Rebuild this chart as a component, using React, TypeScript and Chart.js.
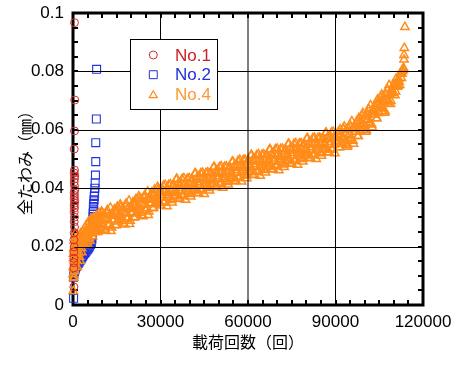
import React, { useEffect, useRef } from "react";
import { Chart, registerables } from "chart.js";

Chart.register(...registerables);

// ---- data ----
const seriesLabels = ["No.1", "No.2", "No.4"];
const xTicks = [0, 30000, 60000, 90000, 120000];
const yTicks = [0, 0.02, 0.04, 0.06, 0.08, 0.1];
const xMinorStep = 5000;
const yMinorStep = 0.005;

// No.1 : [load cycles, total deflection mm]
const no1Data: [number, number][] = [
  [500, 0.0967], [600, 0.0702], [500, 0.0596], [400, 0.0534], [500, 0.0462], [400, 0.0452],
  [600, 0.0442], [500, 0.0432], [400, 0.0421], [500, 0.0408], [600, 0.0394], [400, 0.0384],
  [500, 0.0375], [400, 0.0366], [600, 0.0357], [500, 0.0349], [400, 0.034], [500, 0.0332],
  [400, 0.0318], [500, 0.0301], [400, 0.0285], [500, 0.0267], [400, 0.0247], [300, 0.0223],
  [400, 0.0199], [300, 0.0182], [300, 0.016], [300, 0.0145], [300, 0.0127], [300, 0.0062],
];

// No.2
const no2Data: [number, number][] = [
  [200, 0.0023], [200, 0.0095], [300, 0.0105], [500, 0.0115], [700, 0.0122], [900, 0.0128],
  [1200, 0.0133], [1500, 0.0138], [1800, 0.0142], [2100, 0.0147], [2400, 0.0152], [2700, 0.0157],
  [3000, 0.0162], [3300, 0.0167], [3600, 0.0172], [3900, 0.0176], [4200, 0.018], [4500, 0.0184],
  [4800, 0.0188], [5100, 0.0192], [5400, 0.0196], [5700, 0.0201], [6000, 0.0207], [6300, 0.0213],
  [6500, 0.0225], [6600, 0.024], [6700, 0.0255], [6700, 0.0268], [6800, 0.028], [6800, 0.0292],
  [6900, 0.0303], [6900, 0.0315], [7000, 0.0326], [7000, 0.0337], [7100, 0.0348], [7200, 0.036],
  [7300, 0.0372], [7400, 0.0384], [7500, 0.04], [7600, 0.0418], [7700, 0.0445], [7800, 0.0491],
  [7800, 0.0556], [8000, 0.0637], [8100, 0.0807],
];

// No.4
const no4Data: [number, number][] = [
  [0, 0.0105], [100, 0.0048], [200, 0.0095], [300, 0.0092], [100, 0.013], [200, 0.016], [300, 0.0195],
  [400, 0.022], [500, 0.0145], [500, 0.0115], [600, 0.0175], [700, 0.0205], [800, 0.0245], [900, 0.0155],
  [1000, 0.019], [1200, 0.0225], [1400, 0.0165], [1500, 0.013], [1600, 0.0205], [1800, 0.0235],
  [2000, 0.018], [2300, 0.0215], [2500, 0.015], [2600, 0.0245], [2900, 0.0195], [3200, 0.0225],
  [3500, 0.0255], [3800, 0.021], [4100, 0.024], [4400, 0.027], [4700, 0.0225], [5000, 0.0255],
  [5300, 0.0285], [5600, 0.023], [5900, 0.026], [6200, 0.0295], [6500, 0.0245], [6800, 0.0275],
  [7100, 0.03], [7400, 0.025], [7700, 0.028], [8000, 0.0305], [8300, 0.026], [8600, 0.029],
  [8900, 0.0315], [9200, 0.0265], [9500, 0.0295], [9800, 0.032],
  [150, 0.0175], [350, 0.0125], [450, 0.0185], [650, 0.0135], [750, 0.0225], [950, 0.0205],
  [1100, 0.0155], [1300, 0.0195], [1700, 0.0175], [1900, 0.021], [2200, 0.0165], [2400, 0.0235],
  [2800, 0.0225], [3000, 0.018], [3400, 0.021], [3700, 0.024], [4000, 0.0205], [4300, 0.0255],
  [4600, 0.0235], [4900, 0.021], [5200, 0.0245], [5500, 0.0265], [5800, 0.022], [6100, 0.0255],
  [6400, 0.028], [6700, 0.0235], [7000, 0.0265], [7300, 0.029], [7600, 0.0255], [7900, 0.027],
  [8200, 0.0295], [8500, 0.025], [8800, 0.0275], [9100, 0.03], [9400, 0.0255], [9700, 0.028],
  [10000, 0.0315], [10400, 0.0266], [10800, 0.0298], [11200, 0.0254], [11600, 0.0315], [12000, 0.0291],
  [12400, 0.0277], [12800, 0.0333], [13200, 0.0265], [13600, 0.0311], [14000, 0.0292], [14400, 0.0318],
  [14800, 0.0274], [15200, 0.0336], [15600, 0.0292], [16000, 0.0309], [16400, 0.0336], [16800, 0.0287],
  [17200, 0.0319], [17600, 0.0275], [18000, 0.0337], [18400, 0.0314], [18800, 0.03], [19200, 0.0357],
  [19600, 0.0288], [20000, 0.0335], [20400, 0.0317], [20800, 0.0344], [21200, 0.0301], [21600, 0.0363],
  [22000, 0.032], [22400, 0.0337], [22800, 0.0364], [23200, 0.0316], [23600, 0.0347], [24000, 0.0304],
  [24400, 0.0366], [24800, 0.0343], [25200, 0.0331], [25600, 0.0388], [26000, 0.032], [26400, 0.0367],
  [26800, 0.0349], [27200, 0.0376], [27600, 0.0333], [28000, 0.0395], [28400, 0.0352], [28800, 0.0369],
  [29200, 0.0396], [29600, 0.0348],
  [10200, 0.0275], [10600, 0.0311], [11000, 0.0258], [11400, 0.0294], [11800, 0.0325], [12200, 0.0271],
  [12600, 0.0307], [13000, 0.0253], [13400, 0.0305], [13800, 0.0291], [14200, 0.0327], [14600, 0.0273],
  [15000, 0.0319], [15400, 0.0286], [15800, 0.0302], [16200, 0.0344], [16600, 0.0296], [17000, 0.0332],
  [17400, 0.0279], [17800, 0.0315], [18200, 0.0347], [18600, 0.0294], [19000, 0.033], [19400, 0.0277],
  [19800, 0.0328], [20200, 0.0315], [20600, 0.0352], [21000, 0.0299], [21400, 0.0346], [21800, 0.0313],
  [22200, 0.033], [22600, 0.0372], [23000, 0.0324], [23400, 0.0361], [23800, 0.0307], [24200, 0.0344],
  [24600, 0.0376], [25000, 0.0323], [25400, 0.0361], [25800, 0.0308], [26200, 0.036], [26600, 0.0347],
  [27000, 0.0384], [27400, 0.0331], [27800, 0.0378], [28200, 0.0345], [28600, 0.0362], [29000, 0.0404],
  [29400, 0.0356], [29800, 0.0393],
  [30000, 0.0385], [30400, 0.0367], [30800, 0.0393], [31200, 0.035], [31600, 0.0411], [32000, 0.0368],
  [32400, 0.0384], [32800, 0.0411], [33200, 0.0363], [33600, 0.0394], [34000, 0.0351], [34400, 0.0412],
  [34800, 0.0389], [35200, 0.0375], [35600, 0.0432], [36000, 0.0363], [36400, 0.0409], [36800, 0.039],
  [37200, 0.0416], [37600, 0.0372], [38000, 0.0434], [38400, 0.039], [38800, 0.0406], [39200, 0.0432],
  [39600, 0.0384], [40000, 0.0415], [40400, 0.0371], [40800, 0.0432], [41200, 0.0408], [41600, 0.0395],
  [42000, 0.0451], [42400, 0.0382], [42800, 0.0428], [43200, 0.041], [43600, 0.0436], [44000, 0.0392],
  [44400, 0.0453], [44800, 0.041], [45200, 0.0426], [45600, 0.0452], [46000, 0.0404], [46400, 0.0435],
  [46800, 0.0392], [47200, 0.0453], [47600, 0.043], [48000, 0.0416], [48400, 0.0473], [48800, 0.0404],
  [49200, 0.045], [49600, 0.0431], [50000, 0.0457], [50400, 0.0413], [50800, 0.0475], [51200, 0.0431],
  [51600, 0.0447], [52000, 0.0473], [52400, 0.0424], [52800, 0.0456], [53200, 0.0412], [53600, 0.0473],
  [54000, 0.0449], [54400, 0.0435], [54800, 0.0491], [55200, 0.0423], [55600, 0.047], [56000, 0.0452],
  [56400, 0.0478], [56800, 0.0435], [57200, 0.0497], [57600, 0.0453], [58000, 0.047], [58400, 0.0496],
  [58800, 0.0447], [59200, 0.0478], [59600, 0.0434],
  [30200, 0.034], [30600, 0.0377], [31000, 0.0408], [31400, 0.0355], [31800, 0.0391], [32200, 0.0338],
  [32600, 0.0389], [33000, 0.0376], [33400, 0.0413], [33800, 0.0359], [34200, 0.0406], [34600, 0.0372],
  [35000, 0.0389], [35400, 0.043], [35800, 0.0382], [36200, 0.0418], [36600, 0.0364], [37000, 0.04],
  [37400, 0.0431], [37800, 0.0377], [38200, 0.0414], [38600, 0.036], [39000, 0.0411], [39400, 0.0397],
  [39800, 0.0434], [40200, 0.038], [40600, 0.0426], [41000, 0.0392], [41400, 0.0408], [41800, 0.045],
  [42200, 0.0401], [42600, 0.0437], [43000, 0.0383], [43400, 0.042], [43800, 0.0451], [44200, 0.0397],
  [44600, 0.0433], [45000, 0.038], [45400, 0.0431], [45800, 0.0417], [46200, 0.0454], [46600, 0.04],
  [47000, 0.0447], [47400, 0.0413], [47800, 0.043], [48200, 0.0471], [48600, 0.0423], [49000, 0.0459],
  [49400, 0.0405], [49800, 0.0441], [50200, 0.0472], [50600, 0.0418], [51000, 0.0455], [51400, 0.0401],
  [51800, 0.0452], [52200, 0.0438], [52600, 0.0474], [53000, 0.0421], [53400, 0.0467], [53800, 0.0433],
  [54200, 0.0449], [54600, 0.049], [55000, 0.0441], [55400, 0.0478], [55800, 0.0425], [56200, 0.0462],
  [56600, 0.0493], [57000, 0.044], [57400, 0.0477], [57800, 0.0423], [58200, 0.0475], [58600, 0.0461],
  [59000, 0.0497], [59400, 0.0443], [59800, 0.0489],
  [60000, 0.0495], [60400, 0.0471], [60800, 0.0457], [61200, 0.0514], [61600, 0.0445], [62000, 0.0491],
  [62400, 0.0472], [62800, 0.0498], [63200, 0.0455], [63600, 0.0516], [64000, 0.0472], [64400, 0.0488],
  [64800, 0.0514], [65200, 0.0466], [65600, 0.0497], [66000, 0.0453], [66400, 0.0514], [66800, 0.049],
  [67200, 0.0477], [67600, 0.0533], [68000, 0.0464], [68400, 0.051], [68800, 0.0491], [69200, 0.0518],
  [69600, 0.0474], [70000, 0.0535], [70400, 0.0491], [70800, 0.0507], [71200, 0.0534], [71600, 0.0485],
  [72000, 0.0516], [72400, 0.0472], [72800, 0.0533], [73200, 0.051], [73600, 0.0496], [74000, 0.0552],
  [74400, 0.0483], [74800, 0.0529], [75200, 0.0511], [75600, 0.0537], [76000, 0.0493], [76400, 0.0554],
  [76800, 0.051], [77200, 0.0527], [77600, 0.0553], [78000, 0.0504], [78400, 0.0535], [78800, 0.0491],
  [79200, 0.0553], [79600, 0.0529], [80000, 0.0515], [80400, 0.0571], [80800, 0.0502], [81200, 0.0549],
  [81600, 0.053], [82000, 0.0556], [82400, 0.0512], [82800, 0.0573], [83200, 0.053], [83600, 0.0546],
  [84000, 0.0572], [84400, 0.0523], [84800, 0.0554], [85200, 0.0511], [85600, 0.0572], [86000, 0.0548],
  [86400, 0.0534], [86800, 0.059], [87200, 0.0522], [87600, 0.0568], [88000, 0.0549], [88400, 0.0575],
  [88800, 0.0531], [89200, 0.0593], [89600, 0.0549],
  [60200, 0.0455], [60600, 0.0471], [61000, 0.0512], [61400, 0.0464], [61800, 0.05], [62200, 0.0446],
  [62600, 0.0482], [63000, 0.0513], [63400, 0.046], [63800, 0.0496], [64200, 0.0442], [64600, 0.0493],
  [65000, 0.0479], [65400, 0.0516], [65800, 0.0462], [66200, 0.0508], [66600, 0.0474], [67000, 0.049],
  [67400, 0.0532], [67800, 0.0483], [68200, 0.0519], [68600, 0.0465], [69000, 0.0501], [69400, 0.0533],
  [69800, 0.0479], [70200, 0.0515], [70600, 0.0461], [71000, 0.0512], [71400, 0.0499], [71800, 0.0535],
  [72200, 0.0481], [72600, 0.0527], [73000, 0.0493], [73400, 0.051], [73800, 0.0551], [74200, 0.0502],
  [74600, 0.0538], [75000, 0.0484], [75400, 0.0521], [75800, 0.0552], [76200, 0.0498], [76600, 0.0534],
  [77000, 0.048], [77400, 0.0532], [77800, 0.0518], [78200, 0.0554], [78600, 0.05], [79000, 0.0546],
  [79400, 0.0513], [79800, 0.0529], [80200, 0.057], [80600, 0.0521], [81000, 0.0557], [81400, 0.0504],
  [81800, 0.054], [82200, 0.0571], [82600, 0.0517], [83000, 0.0553], [83400, 0.05], [83800, 0.0551],
  [84200, 0.0537], [84600, 0.0573], [85000, 0.0519], [85400, 0.0566], [85800, 0.0532], [86200, 0.0548],
  [86600, 0.0589], [87000, 0.054], [87400, 0.0577], [87800, 0.0523], [88200, 0.0559], [88600, 0.059],
  [89000, 0.0536], [89400, 0.0573], [89800, 0.0519],
  [90000, 0.0575], [90400, 0.0557], [90800, 0.0583], [91200, 0.054], [91600, 0.0601], [92000, 0.0558],
  [92400, 0.0575], [92800, 0.0601], [93200, 0.0553], [93600, 0.0585], [94000, 0.0542], [94400, 0.0604],
  [94800, 0.0581], [95200, 0.0571], [95600, 0.0629], [96000, 0.0562], [96400, 0.061], [96800, 0.0593],
  [97200, 0.062], [97600, 0.0578], [98000, 0.064], [98400, 0.0599], [98800, 0.0618], [99200, 0.0647],
  [99600, 0.06], [100000, 0.0634], [100400, 0.0593], [100800, 0.0657], [101200, 0.0636], [101600, 0.0625],
  [102000, 0.0684], [102400, 0.0618], [102800, 0.0667], [103200, 0.0651], [103600, 0.068], [104000, 0.0639],
  [104400, 0.0703], [104800, 0.0662], [105200, 0.0681], [105600, 0.071], [106000, 0.0664], [106400, 0.0698],
  [106800, 0.0658], [107200, 0.0723], [107600, 0.0703], [108000, 0.0693], [108400, 0.0753], [108800, 0.0688],
  [109200, 0.0739], [109600, 0.0725], [110000, 0.0756], [110400, 0.0718], [110800, 0.0775], [111200, 0.0747],
  [111600, 0.0775], [112000, 0.0753], [112400, 0.0792], [112800, 0.0792], [113000, 0.08], [113200, 0.0805],
  [113300, 0.0812], [113500, 0.084], [113500, 0.0856], [113600, 0.088], [113800, 0.0952],
  [90200, 0.057], [90600, 0.0557], [91000, 0.0593], [91400, 0.054], [91800, 0.0586], [92200, 0.0553],
  [92600, 0.057], [93000, 0.0611], [93400, 0.0563], [93800, 0.06], [94200, 0.0547], [94600, 0.0584],
  [95000, 0.0616], [95400, 0.0566], [95800, 0.0604], [96200, 0.0552], [96600, 0.0605], [97000, 0.0593],
  [97400, 0.063], [97800, 0.0578], [98200, 0.0625], [98600, 0.0594], [99000, 0.0613], [99400, 0.0657],
  [99800, 0.061], [100200, 0.0649], [100600, 0.0598], [101000, 0.0637], [101400, 0.0671], [101800, 0.062],
  [102200, 0.0659], [102600, 0.0608], [103000, 0.0662], [103400, 0.0651], [103800, 0.069], [104200, 0.0639],
  [104600, 0.0688], [105000, 0.0657], [105400, 0.0676], [105800, 0.072], [106200, 0.0674], [106600, 0.0713],
  [107000, 0.0663], [107400, 0.0703], [107800, 0.0738], [108200, 0.0698], [108600, 0.0721], [109000, 0.0698],
  [109400, 0.0729], [109800, 0.0728], [110200, 0.0751], [110600, 0.0731], [111000, 0.076], [111400, 0.075],
  [111800, 0.0765], [112200, 0.0793], [112600, 0.0777],
];

// ---- styles ----
const RED = "#d42c2c";
const BLUE = "#2233dd";
const ORANGE = "#ff8c1a";
const RED_TEXT = "#cc1f1f";
const BLUE_TEXT = "#1f2fd9";
const ORANGE_TEXT = "#ff9830";
const TICK_FONT = { family: '"Liberation Sans", Arial, sans-serif', size: 17 };
const TITLE_FONT = { family: '"Noto Sans CJK JP", sans-serif', size: 16 };

function drawSymbol(ctx: CanvasRenderingContext2D, style: string, x: number, y: number, r: number, color: string, lw: number) {
  ctx.save();
  ctx.strokeStyle = color;
  ctx.lineWidth = lw;
  ctx.beginPath();
  if (style === "circle") {
    ctx.arc(x, y, r, 0, Math.PI * 2);
  } else if (style === "rect") {
    const s = r * Math.SQRT1_2;
    ctx.rect(x - s, y - s, 2 * s, 2 * s);
  } else {
    ctx.moveTo(x, y - r);
    ctx.lineTo(x + r * Math.sin((2 * Math.PI) / 3), y + r / 2);
    ctx.lineTo(x - r * Math.sin((2 * Math.PI) / 3), y + r / 2);
    ctx.closePath();
  }
  ctx.stroke();
  ctx.restore();
}

const framePlugin = {
  id: "frameGrid",
  beforeDatasetsDraw(chart: any) {
    const { ctx, chartArea: a, scales } = chart;
    const xs = scales.x;
    const ys = scales.y;
    ctx.save();
    ctx.strokeStyle = "#000";
    ctx.lineWidth = 2;
    ctx.beginPath();
    for (let v = xs.min; v <= xs.max; v += xMinorStep) {
      const px = Math.round(xs.getPixelForValue(v));
      ctx.moveTo(px, a.top);
      ctx.lineTo(px, a.top + 5);
      ctx.moveTo(px, a.bottom);
      ctx.lineTo(px, a.bottom - 5);
    }
    for (let i = 0; i * yMinorStep <= ys.max + 1e-9; i++) {
      const py = Math.round(ys.getPixelForValue(i * yMinorStep));
      ctx.moveTo(a.left, py);
      ctx.lineTo(a.left + 5, py);
      ctx.moveTo(a.right, py);
      ctx.lineTo(a.right - 5, py);
    }
    ctx.stroke();
    ctx.lineWidth = 3;
    ctx.strokeRect(a.left, a.top, a.right - a.left, a.bottom - a.top);
    ctx.restore();
  },
  afterDatasetsDraw(chart: any) {
    const { ctx, chartArea: a, scales } = chart;
    const xs = scales.x;
    const ys = scales.y;
    ctx.save();
    ctx.strokeStyle = "#000";
    ctx.lineWidth = 1;
    ctx.beginPath();
    xTicks.slice(1, -1).forEach((v) => {
      const px = xs.getPixelForValue(v);
      ctx.moveTo(px, a.top + 1.5);
      ctx.lineTo(px, a.bottom - 1.5);
    });
    yTicks.slice(1, -1).forEach((v) => {
      const py = Math.round(ys.getPixelForValue(v)) + 0.5;
      ctx.moveTo(a.left + 1.5, py);
      ctx.lineTo(a.right - 1.5, py);
    });
    ctx.stroke();

    // legend box
    const bx = a.left + 57;
    const by = a.top + 26;
    const bw = 87;
    const bh = 70;
    ctx.fillStyle = "#fff";
    ctx.fillRect(bx, by, bw, bh);
    ctx.strokeStyle = "#000";
    ctx.lineWidth = 1;
    ctx.strokeRect(bx + 0.5, by + 0.5, bw, bh);

    const items = [
      { label: seriesLabels[0], style: "circle", r: 4, color: RED, text: RED_TEXT, lw: 1 },
      { label: seriesLabels[1], style: "rect", r: 5.6, color: BLUE, text: BLUE_TEXT, lw: 1 },
      { label: seriesLabels[2], style: "triangle", r: 4.6, color: ORANGE, text: ORANGE_TEXT, lw: 1.2 },
    ];
    ctx.font = `${TICK_FONT.size}px ${TICK_FONT.family}`;
    ctx.textBaseline = "alphabetic";
    ctx.textAlign = "left";
    items.forEach((it, i) => {
      const cy = by + 16 + i * 19.7;
      drawSymbol(ctx, it.style, bx + 23.3, it.style === "triangle" ? cy + 1 : cy, it.r, it.color, it.lw);
      ctx.fillStyle = it.text;
      ctx.fillText(it.label, bx + 45, cy + 5.7);
    });
    ctx.restore();
  },
};

const zeroPad = (s: any) => {
  s.paddingLeft = 0;
  s.paddingRight = 0;
  s.paddingTop = 0;
  s.paddingBottom = 0;
};

export default function App() {
  const ref = useRef<HTMLCanvasElement | null>(null);

  useEffect(() => {
    document.body.style.margin = "0";
    if (!ref.current) return;
    const toPts = (d: [number, number][]) => d.map(([x, y]) => ({ x, y }));
    const chart = new Chart(ref.current, {
      type: "scatter",
      data: {
        datasets: [
          {
            label: seriesLabels[0],
            data: toPts(no1Data),
            pointStyle: "circle",
            pointRadius: 4,
            borderColor: RED,
            backgroundColor: "rgba(0,0,0,0)",
            borderWidth: 1,
            clip: false as any,
          },
          {
            label: seriesLabels[2],
            data: toPts(no4Data),
            pointStyle: "triangle",
            pointRadius: 4.8,
            borderColor: ORANGE,
            backgroundColor: "rgba(0,0,0,0)",
            borderWidth: 1.5,
            clip: false as any,
          },
          {
            label: seriesLabels[1],
            data: toPts(no2Data),
            pointStyle: "rect",
            pointRadius: 5.6,
            borderColor: BLUE,
            backgroundColor: "rgba(0,0,0,0)",
            borderWidth: 1.1,
            clip: false as any,
          },
        ],
      },
      options: {
        animation: false,
        responsive: false,
        devicePixelRatio: 1,
        events: [],
        layout: { padding: { top: 13, right: 29, left: 0, bottom: 0 } },
        plugins: { legend: { display: false }, tooltip: { enabled: false } },
        scales: {
          x: {
            type: "linear",
            min: xTicks[0],
            max: xTicks[xTicks.length - 1],
            afterBuildTicks: (s: any) => {
              s.ticks = xTicks.map((v) => ({ value: v }));
            },
            ticks: {
              callback: (v: any) => String(v),
              font: TICK_FONT,
              color: "#000",
              padding: 7,
              maxRotation: 0,
              autoSkip: false,
            },
            grid: { display: false, drawTicks: false },
            border: { display: false },
            title: {
              display: true,
              text: "載荷回数（回）",
              font: TITLE_FONT,
              color: "#000",
              padding: { top: 0, bottom: 13 },
            },
            afterFit: (s: any) => {
              s.height = 60;
              zeroPad(s);
            },
          },
          y: {
            type: "linear",
            min: yTicks[0],
            max: yTicks[yTicks.length - 1],
            afterBuildTicks: (s: any) => {
              s.ticks = yTicks.map((v) => ({ value: v }));
            },
            ticks: {
              callback: (v: any) => String(Number(Number(v).toFixed(3))),
              font: TICK_FONT,
              color: "#000",
              padding: 9,
              autoSkip: false,
            },
            grid: { display: false, drawTicks: false },
            border: { display: false },
            title: {
              display: true,
              text: "全たわみ（㎜）",
              font: TITLE_FONT,
              color: "#000",
              padding: { top: 15, bottom: 0 },
            },
            afterFit: (s: any) => {
              s.width = 73;
              zeroPad(s);
            },
          },
        },
      },
      plugins: [framePlugin],
    });
    return () => chart.destroy();
  }, []);

  return (
    <div style={{ width: 452, height: 365 }}>
      <canvas ref={ref} width={452} height={365} style={{ display: "block" }} />
    </div>
  );
}
